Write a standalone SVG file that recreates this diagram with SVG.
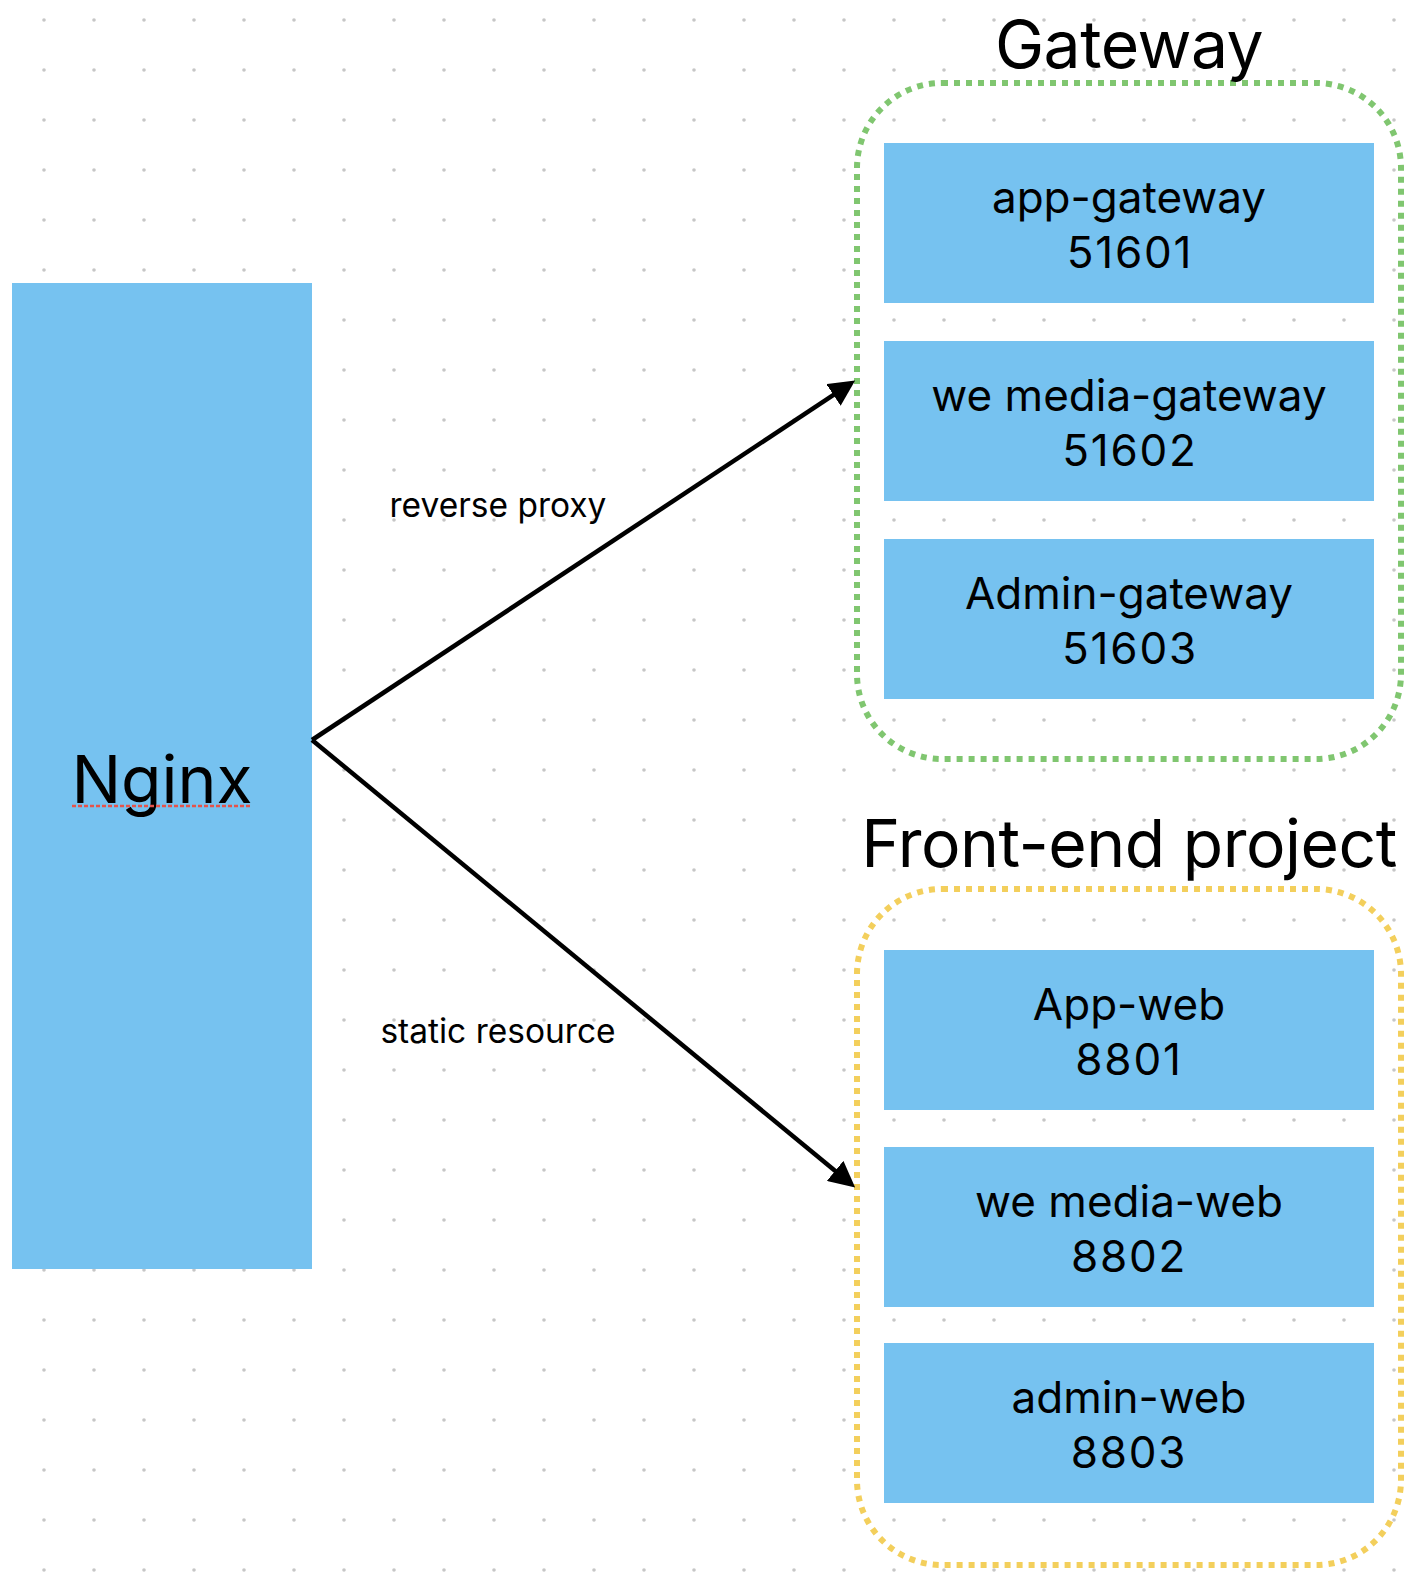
<svg xmlns="http://www.w3.org/2000/svg" width="1412" height="1580" viewBox="0 0 1412 1580">
  <style>
    .box { fill: #76c2f0; }
    .lbl { font-family: Inter, "Noto Sans", "Liberation Sans", sans-serif; fill: #000; text-anchor: middle; }
    .inner { font-size: 44px; }
    .num { font-size: 44px; letter-spacing: 1.8px; }
    .title { font-size: 66px; letter-spacing: -0.5px; }
    .edge { font-size: 33.5px; }
    .conn { stroke: #000; stroke-width: 4.5; fill: none; }
    .grp { fill: none; stroke-width: 6; stroke-dasharray: 6 6; }
  </style>
  <defs>
    <pattern id="dots" x="19" y="-5" width="50" height="50" patternUnits="userSpaceOnUse">
      <circle cx="25" cy="25" r="1.8" fill="#c6c6c6"/>
    </pattern>
    <marker id="arrow" viewBox="0 0 26 26" markerWidth="26" markerHeight="26" markerUnits="userSpaceOnUse" refX="1" refY="13" orient="auto">
      <path d="M0,0 L26,13 L0,26 z" fill="#000"/>
    </marker>
  </defs>

  <rect x="0" y="0" width="1412" height="1580" fill="#fff"/>
  <rect x="0" y="0" width="1412" height="1580" fill="url(#dots)"/>

  <g id="nginx">
    <rect class="box" x="12" y="283" width="300" height="986"/>
    <text class="lbl" x="162" y="803" font-size="66">Nginx</text>
    <line x1="72" y1="806" x2="252" y2="806" stroke="#e5534b" stroke-width="2.5" stroke-dasharray="4 2"/>
  </g>

  <g id="gateway-group">
    <rect class="grp" x="857" y="83" width="544" height="676" rx="85" ry="85" stroke="#80c670"/>
    <text class="lbl title" x="1129" y="68">Gateway</text>
  </g>

  <g id="app-gateway">
    <rect class="box" x="884" y="143" width="490" height="160"/>
    <text class="lbl inner" x="1129" y="213">app-gateway</text>
    <text class="lbl num" x="1130" y="268">51601</text>
  </g>
  <g id="we-media-gateway">
    <rect class="box" x="884" y="341" width="490" height="160"/>
    <text class="lbl inner" x="1129" y="411">we media-gateway</text>
    <text class="lbl num" x="1130" y="466">51602</text>
  </g>
  <g id="admin-gateway">
    <rect class="box" x="884" y="539" width="490" height="160"/>
    <text class="lbl inner" x="1129" y="609">Admin-gateway</text>
    <text class="lbl num" x="1130" y="664">51603</text>
  </g>

  <g id="frontend-group">
    <rect class="grp" x="857" y="889" width="544" height="676" rx="85" ry="85" stroke="#f3cf5c"/>
    <text class="lbl title" x="1129" y="867">Front-end project</text>
  </g>

  <g id="app-web">
    <rect class="box" x="884" y="950" width="490" height="160"/>
    <text class="lbl inner" x="1129" y="1020">App-web</text>
    <text class="lbl num" x="1129" y="1075">8801</text>
  </g>
  <g id="we-media-web">
    <rect class="box" x="884" y="1147" width="490" height="160"/>
    <text class="lbl inner" x="1129" y="1217">we media-web</text>
    <text class="lbl num" x="1129" y="1272">8802</text>
  </g>
  <g id="admin-web">
    <rect class="box" x="884" y="1343" width="490" height="160"/>
    <text class="lbl inner" x="1129" y="1413">admin-web</text>
    <text class="lbl num" x="1129" y="1468">8803</text>
  </g>

  <g id="connectors">
    <line class="conn" x1="312" y1="740" x2="834.3" y2="394.4" marker-end="url(#arrow)"/>
    <line class="conn" x1="312" y1="740" x2="835.9" y2="1171.5" marker-end="url(#arrow)"/>
    <text class="lbl edge" x="498" y="517">reverse proxy</text>
    <text class="lbl edge" x="498" y="1043">static resource</text>
  </g>
</svg>
